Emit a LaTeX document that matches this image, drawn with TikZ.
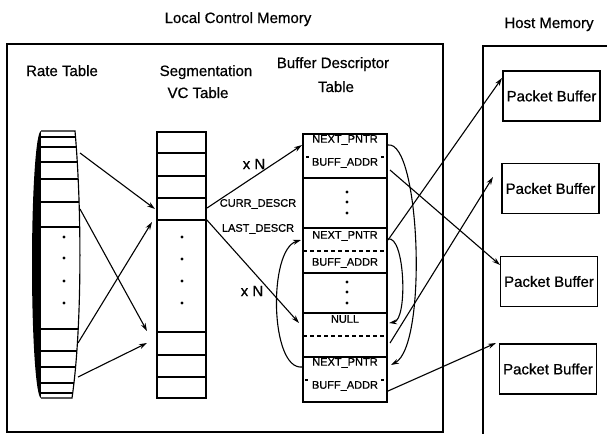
\documentclass[tikz,border=0pt]{standalone}
\usepackage{fontspec}
\setmainfont{Liberation Sans}
\newfontfamily\lblfont{Liberation Sans}[FakeBold=0.7]
\usetikzlibrary{arrows.meta}
\begin{document}
\begin{tikzpicture}[x=1pt,y=-1pt, line width=1.15pt,
  arr/.style={-{Stealth[length=8pt,width=5pt]}, line width=1.1pt},
  lbl/.style={font=\lblfont\fontsize{15}{17}\selectfont, anchor=base, inner sep=0pt},
  sm/.style={font=\lblfont\fontsize{11}{12}\selectfont, inner sep=0pt},
  xn/.style={font=\lblfont\fontsize{15}{17}\selectfont, inner sep=0pt},
  pb/.style={draw, line width=1.15pt, minimum width=97pt, minimum height=50pt, inner sep=0pt, font=\lblfont\fontsize{15}{17}\selectfont},
  dotf/.style={fill, circle, inner sep=0pt, minimum size=3.2pt},
  dsh/.style={line width=1.4pt, dash pattern=on 4pt off 3pt}]
\useasboundingbox (0,0) rectangle (607,434);

% memory boxes
\draw[line width=1.3pt] (7,44) rectangle (443,432);
\draw[line width=1.3pt] (607,46) -- (483,46) -- (483,434);

% titles
\node[lbl] (tlcm) at (238,23) {Local Control Memory};
\node[lbl] (thm) at (549,28) {Host Memory};
\node[lbl] (trt) at (62,76) {Rate Table};
\node[lbl] (tseg) at (206,76) {Segmentation};
\node[lbl] (tvc) at (198,98) {VC Table};
\node[lbl] (tbd) at (333,68) {Buffer Descriptor};
\node[lbl] (tbt) at (336,92) {Table};

% rate table drum
\fill (41,264.5) ellipse [x radius=9pt, y radius=133.5pt];
\begin{scope}
\clip (41,131) -- (75,131) .. controls (82,210) and (82,330) .. (72,398) -- (41,398) -- cycle;
\fill[white] (30,120) rectangle (90,410);
\foreach \y in {137,147,162,179,202,227,329,351,367,383,393} \draw (30,\y) -- (90,\y);
\end{scope}
\draw (41,131) -- (75,131) .. controls (82,210) and (82,330) .. (72,398) -- (41,398);
\foreach \y [count=\i] in {237,258,281,303} \node[dotf] (rd\i) at (64,\y) {};

% segmentation VC table
\draw (157,132) rectangle (206,398);
\foreach \y in {153,176,198,220,332,355,377} \draw (157,\y) -- (206,\y);
\foreach \y [count=\i] in {237,259,281,303} \node[dotf] (vd\i) at (182,\y) {};

% buffer descriptor table
\draw (303,134) rectangle (387,402);
\foreach \y in {178,228,273,313,357} \draw (303,\y) -- (387,\y);
\foreach \y in {251,336} \draw[dsh] (303,\y) -- (387,\y);
\foreach \y [count=\i] in {192,202,213,282,292,303} \node[dotf] (bd\i) at (347,\y) {};
\draw (306,157) -- (309,157) (381,157) -- (384,157);
\draw (305,380) -- (308,380) (381,380) -- (384,380);
\node[sm] (n1) at (345,140) {NEXT\_PNTR};
\node[sm] (b1) at (345,163) {BUFF\_ADDR};
\node[sm] (n2) at (345,236) {NEXT\_PNTR};
\node[sm] (b2) at (345,263) {BUFF\_ADDR};
\node[sm] (nl) at (345,319) {NULL};
\node[sm] (n4) at (345,363) {NEXT\_PNTR};
\node[sm] (b4) at (345,386) {BUFF\_ADDR};

% packet buffers
\node[pb] (pb1) at (551.5,96) {Packet Buffer};
\node[pb] (pb2) at (550.5,188.5) {Packet Buffer};
\node[pb] (pb3) at (549,281.5) {Packet Buffer};
\node[pb] (pb4) at (548,369) {Packet Buffer};

% labels on VC -> BD pointers
\node[xn] (xn1) at (254,164) {x N};
\node[sm] (curr) at (258,204) {CURR\_DESCR};
\node[sm] (last) at (258,229) {LAST\_DESCR};
\node[xn] (xn2) at (252,291) {x N};

% connector end points
\coordinate (r1) at (80,153);
\coordinate (r2) at (80,209);
\coordinate (r3) at (78,343);
\coordinate (r4) at (78,377);
\coordinate (v1) at (155,209);
\coordinate (v2) at (147,331);
\coordinate (v3) at (152,222);
\coordinate (v4) at (147,343);
\coordinate (vo1) at (207,208);
\coordinate (vo2) at (206,219);
\coordinate (bi1) at (302,145);
\coordinate (bi2) at (299,323);
\coordinate (bo1) at (390,170);
\coordinate (bo2) at (388,240);
\coordinate (bo3) at (390,343);
\coordinate (bo4) at (388,391);
\coordinate (p1) at (502,78);
\coordinate (p2) at (493,177);
\coordinate (p3) at (500,265);
\coordinate (p4) at (496,343);
\coordinate (c1s) at (388,145);
\coordinate (c1e) at (391,365);
\coordinate (c2s) at (388,239);
\coordinate (c2e) at (389,323);
\coordinate (c3s) at (302,367);
\coordinate (c3e) at (301,240);

% rate -> VC
\draw[arr] (r1) -- (v1);
\draw[arr] (r2) -- (v2);
\draw[arr] (r3) -- (v3);
\draw[arr] (r4) -- (v4);

% VC -> BD
\draw[arr] (vo1) -- (bi1);
\draw[arr] (vo2) -- (bi2);

% BD -> packet buffers
\draw[arr] (bo1) -- (p3);
\draw[arr] (bo2) -- (p1);
\draw[arr] (bo3) -- (p2);
\draw[arr] (bo4) -- (p4);

% descriptor links
\draw[arr] (c1s) .. controls (420,140) and (428,345) .. (c1e);
\draw[arr] (c2s) .. controls (405,235) and (408,320) .. (c2e);
\draw[arr] (c3s) .. controls (270,370) and (268,250) .. (c3e);
\end{tikzpicture}
\end{document}
